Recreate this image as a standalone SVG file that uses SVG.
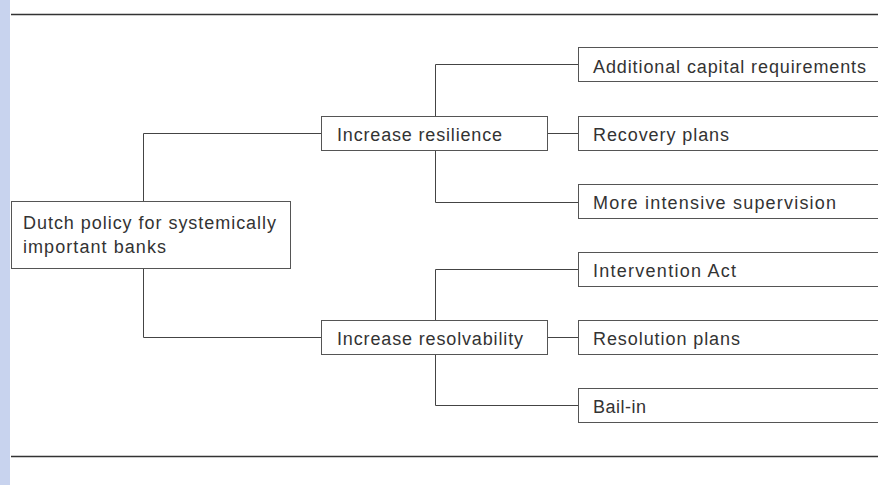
<svg xmlns="http://www.w3.org/2000/svg" width="878" height="485" viewBox="0 0 878 485">
<style>
.box{fill:#fff;stroke:#555;stroke-width:1}
.con{fill:none;stroke:#444;stroke-width:1}
.rule{stroke:#333;stroke-width:1.5}
text{font-family:"Liberation Sans",Arial,sans-serif;font-size:18px;fill:#333}
</style>
<rect x="0" y="0" width="10" height="485" fill="#c8d3ee"/>
<line class="rule" x1="11" y1="14.5" x2="878" y2="14.5"/>
<line class="rule" x1="11" y1="456.5" x2="878" y2="456.5"/>
<g id="connectors">
<path class="con" d="M143.5,201 V133.5 H321"/>
<path class="con" d="M143.5,269 V337.5 H321"/>
<path class="con" d="M435.5,116 V64.5 H578"/>
<path class="con" d="M435.5,150 V202.5 H578"/>
<path class="con" d="M548,133.5 H578"/>
<path class="con" d="M435.5,320 V269.5 H578"/>
<path class="con" d="M435.5,354 V405.5 H578"/>
<path class="con" d="M548,337.5 H578"/>
</g>
<g id="root">
<rect class="box" x="11.5" y="201.5" width="279" height="67"/>
<text x="23" y="229" textLength="253" lengthAdjust="spacing">Dutch policy for systemically</text>
<text x="23" y="253" textLength="143" lengthAdjust="spacing">important banks</text>
</g>
<g id="resilience">
<rect class="box" x="321.5" y="116.5" width="226" height="34"/>
<text x="337" y="141" textLength="165" lengthAdjust="spacing">Increase resilience</text>
</g>
<g id="resolvability">
<rect class="box" x="321.5" y="320.5" width="226" height="34"/>
<text x="337" y="345" textLength="186" lengthAdjust="spacing">Increase resolvability</text>
</g>
<g id="capital">
<rect class="box" x="578.5" y="47.5" width="310" height="34"/>
<text x="593" y="72.5" textLength="273" lengthAdjust="spacing">Additional capital requirements</text>
</g>
<g id="recovery">
<rect class="box" x="578.5" y="116.5" width="310" height="34"/>
<text x="593" y="141" textLength="136" lengthAdjust="spacing">Recovery plans</text>
</g>
<g id="supervision">
<rect class="box" x="578.5" y="184.5" width="310" height="34"/>
<text x="593" y="209" textLength="243" lengthAdjust="spacing">More intensive supervision</text>
</g>
<g id="intervention">
<rect class="box" x="578.5" y="252.5" width="310" height="34"/>
<text x="593" y="277" textLength="143" lengthAdjust="spacing">Intervention Act</text>
</g>
<g id="resolution">
<rect class="box" x="578.5" y="320.5" width="310" height="34"/>
<text x="593" y="345" textLength="147" lengthAdjust="spacing">Resolution plans</text>
</g>
<g id="bailin">
<rect class="box" x="578.5" y="388.5" width="310" height="34"/>
<text x="593" y="413" textLength="53" lengthAdjust="spacing">Bail-in</text>
</g>
</svg>
